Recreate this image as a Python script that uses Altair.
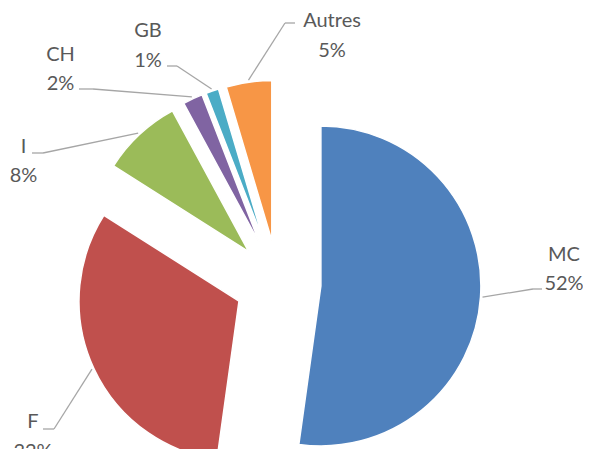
import altair as alt
import pandas as pd

# ---- data ----
categories = ["MC", "F", "I", "CH", "GB", "Autres"]
values = [52.2, 31.8, 8.1, 2.0, 1.3, 4.6]
colors = ["#4F81BD", "#C0504D", "#9BBB59", "#8064A2", "#4BACC6", "#F79646"]

# ---- label layout: offsets from the pie centre (px) ----
label_dx = [286, -245, -254.5, -217.5, -130, 54]
label_dy = [-14.5, 153, -122.5, -214.75, -238, -248.25]
elbow_dx = [255, -224, -235, -185, -101, 7]
elbow_dy = [6, 146, -130, -194, -217, -260]
tail_dx = [9, -11, -11, -14, -10, 10]

CX, CY = 270, 275      # pie centre in the view
R = 160                # pie radius
EXPLODE = 43           # explosion distance
LEADER_R = 205         # leader line start distance

df = pd.DataFrame({
    "order": list(range(len(categories))),
    "cat": categories,
    "value": values,
    "label_dx": label_dx,
    "label_dy": label_dy,
    "elbow_dx": elbow_dx,
    "elbow_dy": elbow_dy,
    "tail_dx": tail_dx,
})

base = (
    alt.Chart(df)
    .transform_joinaggregate(total="sum(value)")
    .transform_window(cum="sum(value)", sort=[alt.SortField("order")], frame=[None, 0])
    .transform_calculate(start="2*PI*(datum.cum - datum.value)/datum.total")
    .transform_calculate(end="2*PI*datum.cum/datum.total")
    .transform_calculate(mid="(datum.start + datum.end)/2")
    .transform_calculate(pct="datum.value/datum.total")
    .transform_calculate(cx=f"{CX} + {EXPLODE}*sin(datum.mid)")
    .transform_calculate(cy=f"{CY} - {EXPLODE}*cos(datum.mid)")
    .transform_calculate(lx=f"{CX} + {LEADER_R}*sin(datum.mid)")
    .transform_calculate(ly=f"{CY} - {LEADER_R}*cos(datum.mid)")
    .transform_calculate(ex=f"{CX} + datum.elbow_dx")
    .transform_calculate(ey=f"{CY} + datum.elbow_dy")
    .transform_calculate(tx=f"datum.ex + datum.tail_dx")
    .transform_calculate(lbx=f"{CX} + datum.label_dx")
    .transform_calculate(lby=f"{CY} + datum.label_dy")
)

arcs = base.mark_arc(radius=R, stroke="white", strokeWidth=1.5).encode(
    theta=alt.Theta("start:Q", scale=None),
    theta2="end:Q",
    x=alt.X("cx:Q", scale=None, axis=None),
    y=alt.Y("cy:Q", scale=None, axis=None),
    color=alt.Color("cat:N", scale=alt.Scale(domain=categories, range=colors), legend=None),
)

lead1 = base.mark_rule(color="#A6A6A6", strokeWidth=1.3).encode(
    x=alt.X("lx:Q", scale=None, axis=None),
    y=alt.Y("ly:Q", scale=None, axis=None),
    x2="ex:Q",
    y2="ey:Q",
)
lead2 = base.mark_rule(color="#A6A6A6", strokeWidth=1.3).encode(
    x=alt.X("ex:Q", scale=None, axis=None),
    y=alt.Y("ey:Q", scale=None, axis=None),
    x2="tx:Q",
    y2="ey:Q",
)

name_text = base.mark_text(font="Lato", fontSize=20, color="#595959", dy=-13.75).encode(
    x=alt.X("lbx:Q", scale=None, axis=None),
    y=alt.Y("lby:Q", scale=None, axis=None),
    text="cat:N",
)
pct_text = base.mark_text(font="Lato", fontSize=20, color="#595959", dy=15.75).encode(
    x=alt.X("lbx:Q", scale=None, axis=None),
    y=alt.Y("lby:Q", scale=None, axis=None),
    text=alt.Text("pct:Q", format=".0%"),
)

chart = (
    alt.layer(arcs, lead1, lead2, name_text, pct_text)
    .properties(width=575, height=441, autosize="none", padding=0)
    .configure_view(stroke=None)
)

chart.save("out.html", embed_options={"renderer": "svg", "actions": False})
